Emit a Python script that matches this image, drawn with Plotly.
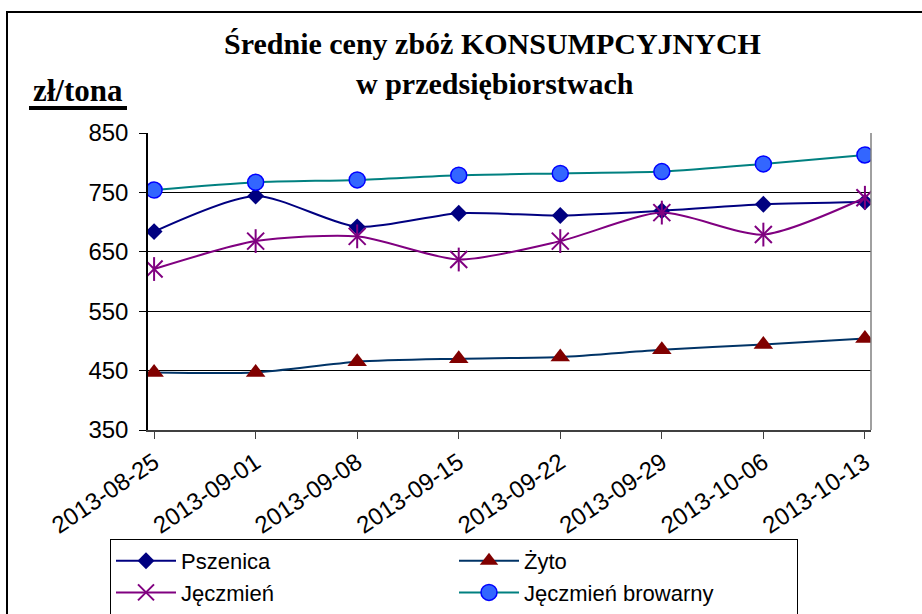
import plotly.graph_objects as go

dates = ["2013-08-25", "2013-09-01", "2013-09-08", "2013-09-15",
         "2013-09-22", "2013-09-29", "2013-10-06", "2013-10-13"]
pszenica = [684, 744, 692, 715, 711, 719, 730, 734]
zyto = [447, 447, 465, 470, 473, 485, 494, 504]
jeczmien = [621, 668, 676, 637, 668, 716, 679, 741]
browarny = [754, 767, 771, 779, 782, 785, 798, 813]
y_ticks = [350, 450, 550, 650, 750, 850]

W, H = 922, 614
L, R, T, B = 148, 871, 133, 430


def px(xp):
    return (xp - L) / (R - L)


def py(yp):
    return (B - yp) / (B - T)


fig = go.Figure()
common = dict(mode="lines+markers", line_shape="spline")
fig.add_trace(go.Scatter(x=dates, y=pszenica, name="Pszenica",
                         line=dict(color="#000080", width=2, smoothing=0.7),
                         marker=dict(symbol="diamond", size=13, color="#000080"),
                         **common))
fig.add_trace(go.Scatter(x=dates, y=zyto, name="Żyto",
                         line=dict(color="#003366", width=2, smoothing=0.7),
                         marker=dict(symbol="triangle-up", size=17, color="#800000"),
                         **common))
fig.add_trace(go.Scatter(x=dates, y=jeczmien, name="Jęczmień",
                         line=dict(color="#800080", width=2, smoothing=0.7),
                         marker=dict(symbol="x-thin-open", size=17, color="#800080",
                                     line=dict(color="#800080", width=2)),
                         **common))
fig.add_trace(go.Scatter(x=dates, y=browarny, name="Jęczmień browarny",
                         line=dict(color="#008080", width=2, smoothing=0.7),
                         marker=dict(symbol="circle", size=16, color="#3366FF",
                                     line=dict(color="#0000FF", width=1.5)),
                         **common))
# vertical arm of the star markers
fig.add_trace(go.Scatter(x=dates, y=jeczmien, mode="markers", showlegend=False,
                         hoverinfo="skip",
                         marker=dict(symbol="line-ns-open", size=17, color="#800080",
                                     line=dict(color="#800080", width=2))))

font_sans = "Liberation Sans, Arial, sans-serif"
font_serif = "Liberation Serif, Times New Roman, serif"

fig.update_layout(
    width=W, height=H,
    margin=dict(l=L, r=W - R, t=T, b=H - B, autoexpand=False),
    paper_bgcolor="white", plot_bgcolor="white",
    showlegend=True,
    legend=dict(orientation="h", x=px(110), y=py(539), xanchor="left", yanchor="top",
                bordercolor="black", borderwidth=1, bgcolor="white",
                font=dict(family=font_sans, size=22, color="black"),
                itemwidth=60,
                entrywidth=268, entrywidthmode="pixels",
                traceorder="normal"),
    xaxis=dict(type="category", range=[-0.06, 7.06], showgrid=False,
               showline=True, linecolor="#404040", linewidth=2,
               ticks="outside", ticklen=7, tickcolor="#404040", tickwidth=1,
               tickangle=-34, tickfont=dict(family=font_sans, size=24, color="black"),
               zeroline=False, automargin=False),
    yaxis=dict(range=[350, 850], tickvals=y_ticks, showgrid=True,
               gridcolor="black", gridwidth=1,
               showline=True, linecolor="black", linewidth=1.5,
               ticks="outside", ticklen=7, tickcolor="black",
               ticklabelstandoff=6,
               tickfont=dict(family=font_sans, size=24, color="black"),
               zeroline=False, automargin=False),
    annotations=[
        dict(text="<b>Średnie ceny zbóż KONSUMPCYJNYCH</b>", xref="paper", yref="paper",
             x=px(492), y=py(44), xanchor="center", yanchor="middle", showarrow=False,
             font=dict(family=font_serif, size=30, color="black")),
        dict(text="<b>w przedsiębiorstwach</b>", xref="paper", yref="paper",
             x=px(495), y=py(83), xanchor="center", yanchor="middle", showarrow=False,
             font=dict(family=font_serif, size=30, color="black")),
        dict(text="<b>zł/tona</b>", xref="paper", yref="paper",
             x=px(78), y=py(90), xanchor="center", yanchor="middle", showarrow=False,
             font=dict(family=font_serif, size=31, color="black")),
    ],
    shapes=[
        dict(type="rect", xref="paper", yref="paper", x0=px(7), x1=px(930),
             y0=py(625), y1=py(12), line=dict(color="black", width=2),
             fillcolor="rgba(0,0,0,0)", layer="below"),
        dict(type="line", xref="paper", yref="paper", x0=px(29), x1=px(127),
             y0=py(108), y1=py(108), line=dict(color="black", width=4)),
        dict(type="line", xref="paper", yref="paper", x0=1, x1=1, y0=0, y1=1,
             line=dict(color="#808080", width=1.5)),
    ],
)

fig.write_html("out.html", config={"displayModeBar": False},
               post_script="document.body.style.margin='0';document.body.style.overflow='hidden';")
